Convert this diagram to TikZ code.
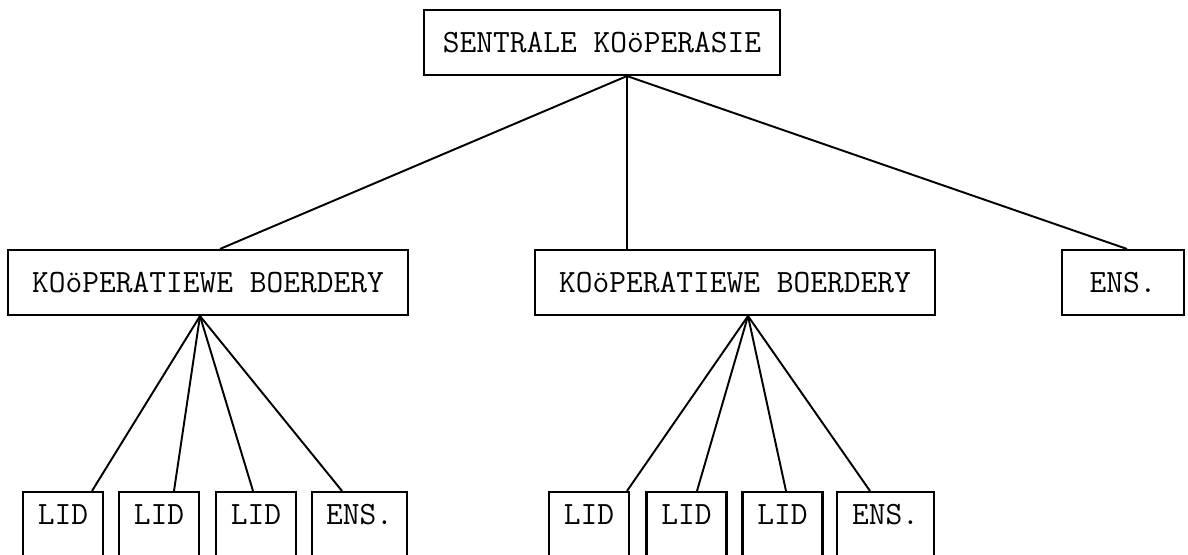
\documentclass[tikz,border=0pt]{standalone}
\usepackage{tikz}
\usetikzlibrary{positioning, calc}

\tikzset{
  orgbox/.style={draw, line width=1.2pt, inner sep=0pt, minimum height=1.3cm,
    font=\fontsize{18.5}{21}\selectfont\ttfamily},
  leafbox/.style={orgbox, minimum height=1.36cm, text depth=0.45cm},
  link/.style={line width=1.1pt}
}

\begin{document}
\begin{tikzpicture}[x=0.02cm, y=-0.02cm]
\useasboundingbox (0,0) rectangle (1188,555);
\clip (0,0) rectangle (1188,555);
% top and middle level
\node[orgbox, minimum width=7.12cm] (sentral) at (602,42.5) {SENTRALE KOöPERASIE};
\node[orgbox, minimum width=8cm] (boerA) at (208,282.5) {KOöPERATIEWE BOERDERY};
\node[orgbox, minimum width=8cm] (boerB) at (735,282.5) {KOöPERATIEWE BOERDERY};
\node[orgbox, minimum width=2.44cm] (ensTop) at (1123,282.5) {ENS.};
% members under the first farm
\node[leafbox, minimum width=1.6cm] (lidA1) at (63,526) {LID};
\node[leafbox, minimum width=1.6cm] (lidA2) at (159,526) {LID};
\node[leafbox, minimum width=1.6cm] (lidA3) at (256,526) {LID};
\node[leafbox, minimum width=1.9cm] (ensA) at (359.5,526) {ENS.};
% members under the second farm
\node[leafbox, minimum width=1.6cm] (lidB1) at (589,526) {LID};
\node[leafbox, minimum width=1.6cm] (lidB2) at (686.5,526) {LID};
\node[leafbox, minimum width=1.6cm] (lidB3) at (782.5,526) {LID};
\node[leafbox, minimum width=1.94cm] (ensB) at (885.5,526) {ENS.};

\coordinate (hubT) at ($(sentral.south)+(25,0)$);
\coordinate (hubA) at ($(boerA.south)+(-8,0)$);
\coordinate (hubB) at ($(boerB.south)+(13,0)$);

\draw[link] (hubT) -- ($(boerA.north)+(12,0)$);
\draw[link] (hubT) -- ($(boerB.north)+(-108,0)$);
\draw[link] (hubT) -- ($(ensTop.north)+(4,0)$);

\draw[link] (hubA) -- ($(lidA1.north)+(29,0)$);
\draw[link] (hubA) -- ($(lidA2.north)+(15,0)$);
\draw[link] (hubA) -- ($(lidA3.north)+(-3,0)$);
\draw[link] (hubA) -- ($(ensA.north)+(-17.5,0)$);

\draw[link] (hubB) -- ($(lidB1.north)+(38,0)$);
\draw[link] (hubB) -- ($(lidB2.north)+(10.5,0)$);
\draw[link] (hubB) -- ($(lidB3.north)+(3.5,0)$);
\draw[link] (hubB) -- ($(ensB.north)+(-15.5,0)$);
\end{tikzpicture}
\end{document}
